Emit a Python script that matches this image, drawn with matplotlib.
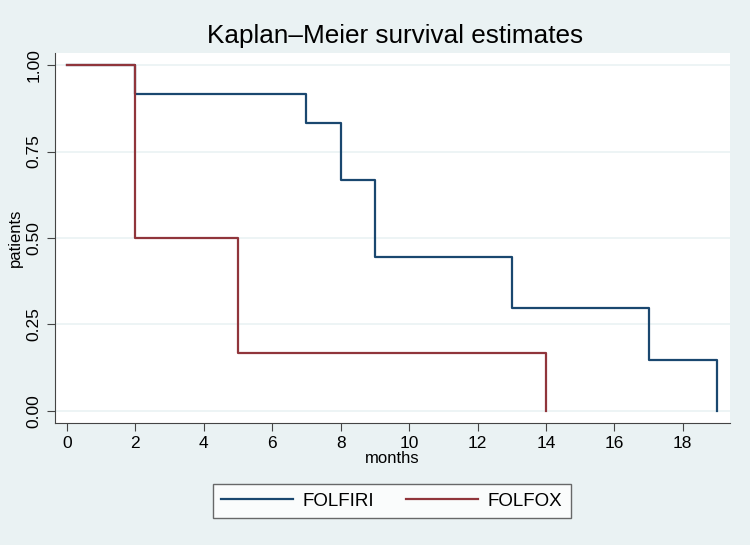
import numpy as np
import matplotlib.pyplot as plt

plt.rcParams['font.family'] = ['Liberation Sans', 'DejaVu Sans']

# Kaplan-Meier step data (time, survival)
folfiri_t = [0, 2, 7, 8, 9, 13, 17, 19]
folfiri_s = [1.0, 0.9167, 0.8333, 0.6667, 0.4444, 0.2963, 0.1481, 0.0]
folfox_t = [0, 2, 5, 14]
folfox_s = [1.0, 0.5, 0.1667, 0.0]

xticks = [0, 2, 4, 6, 8, 10, 12, 14, 16, 18]
yticks = [0.0, 0.25, 0.5, 0.75, 1.0]

bg = '#eaf2f3'
navy = '#1a476f'
maroon = '#90353b'

fig = plt.figure(figsize=(7.5, 5.45), dpi=100, facecolor=bg)
ax = fig.add_axes([55/750, 1 - 423/545, 675/750, 370/545])
ax.set_facecolor('white')

ax.step(folfiri_t, folfiri_s, where='post', color=navy, lw=1.6, label='FOLFIRI')
ax.step(folfox_t, folfox_s, where='post', color=maroon, lw=1.6, label='FOLFOX')

ax.set_xlim(-0.35, 19.38)
ax.set_ylim(-0.035, 1.035)
ax.set_xticks(xticks)
ax.set_yticks(yticks)
ax.set_yticklabels(['%.2f' % v for v in yticks], rotation=90, va='center')
ax.tick_params(axis='both', direction='out', length=6, color='#444444', labelsize=12.5)
ax.grid(axis='y', color=bg, lw=1.2)
ax.set_axisbelow(True)
for s in ['top', 'right']:
    ax.spines[s].set_visible(False)
for s in ['left', 'bottom']:
    ax.spines[s].set_color('#444444')

ax.set_xlabel('months', fontsize=12, labelpad=0)
ax.set_ylabel('patients', fontsize=12, labelpad=3)
fig.text(395/750, 1 - 36/545, 'Kaplan\u2013Meier survival estimates', ha='center', va='center', fontsize=18.8)

leg = fig.legend(loc='center', bbox_to_anchor=(392/750, 1 - 501/545), ncol=2, fontsize=13.5,
                 frameon=True, fancybox=False, handlelength=3.8, handletextpad=0.55,
                 columnspacing=1.7, borderpad=0.45)
leg.get_frame().set_edgecolor('#444444')
leg.get_frame().set_facecolor('white')
leg.get_frame().set_linewidth(1.0)

fig.savefig('out.png', dpi=100, facecolor=bg)
